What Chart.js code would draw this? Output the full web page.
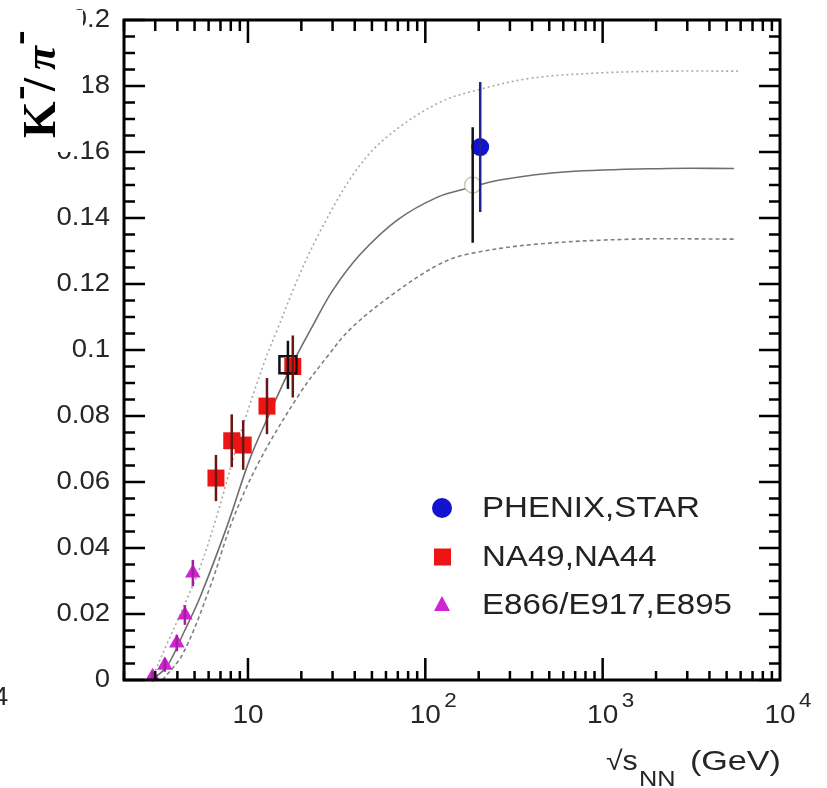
<!DOCTYPE html>
<html lang="en">
<head>
<meta charset="UTF-8">
<title>K-/pi- ratio</title>
<script src="https://cdn.jsdelivr.net/npm/chart.js"></script>
<style>
  body { margin: 0; background: #fff; }
  canvas { display: block; }
</style>
</head>
<body>
<canvas id="ratio_chart" width="827" height="788"></canvas>
<script>
  // model curves (upper / central / lower)
  const energyUpper = [2.85, 3.5, 4.4, 5.36, 6.7, 9.0, 12.5, 14.6, 18.9, 25, 39, 59, 118, 204, 400, 1000, 2500, 5800];
  const ratioUpper  = [0, 0.011, 0.023, 0.034, 0.050, 0.074, 0.097, 0.106, 0.121, 0.135, 0.153, 0.164, 0.1748, 0.179, 0.1824, 0.184, 0.1845, 0.1845];
  const energyMid = [2.85, 3.48, 4.4, 5.36, 7.6, 10.2, 12.8, 17.9, 23, 30, 43, 70, 118, 172, 263, 630, 2300, 5500];
  const ratioMid  = [0, 0.004, 0.015, 0.025, 0.0464, 0.0667, 0.079, 0.096, 0.107, 0.118, 0.129, 0.1395, 0.1464, 0.149, 0.1515, 0.154, 0.155, 0.155];
  const energyLow = [3.3, 4.3, 6.1, 8.2, 11.7, 19.7, 28, 38, 66, 118, 172, 410, 1500, 5500];
  const ratioLow  = [0, 0.008, 0.028, 0.0485, 0.0667, 0.087, 0.098, 0.1065, 0.117, 0.1258, 0.129, 0.132, 0.1336, 0.1336];

  // measurements
  const phenixE = [204],  phenixR = [0.1615], phenixErr = [0.0197];
  const starE   = [185],  starR   = [0.150],  starErr   = [0.0175];
  const na49E = [6.6, 8.1, 9.4, 12.8, 17.9];
  const na49R = [0.0612, 0.0725, 0.0712, 0.083, 0.095];
  const na49Err = [0.007, 0.008, 0.0075, 0.0085, 0.0094];
  const na44E = [16.8], na44R = [0.0955], na44Err = [0.0073];
  const e866E = [2.9, 3.4, 3.97, 4.41, 4.89];
  const e866R = [0.001, 0.0045, 0.0112, 0.0197, 0.0324];
  const e866Err = [0.0015, 0.002, 0.0025, 0.003, 0.004];

  const yTicks = [0, 0.02, 0.04, 0.06, 0.08, 0.1, 0.12, 0.14, 0.16, 0.18, 0.2];
  const xDecades = [1, 2, 3, 4];
  const legendLabels = ['PHENIX,STAR', 'NA49,NA44', 'E866/E917,E895'];

  const BLUE = '#1212cf', RED = '#ee1414', MAGENTA = '#d024d0';

  function pts(xs, ys) {
    return xs.map((x, i) => ({ x: x, y: ys[i] }));
  }

  function txt(ctx, s, x, y, size, align, sx) {
    ctx.save();
    ctx.translate(x, y);
    ctx.scale(sx, 1);
    ctx.font = size + 'px "Liberation Sans", Arial, sans-serif';
    ctx.textAlign = align;
    ctx.fillText(s, 0, 0);
    ctx.restore();
  }

  const errorBars = {
    id: 'errorBars',
    afterDatasetsDraw(chart) {
      const { ctx, scales: { x, y } } = chart;
      ctx.save();
      chart.data.datasets.forEach(ds => {
        if (!ds.errors) return;
        ctx.strokeStyle = ds.errorColor;
        ctx.lineWidth = 2.5;
        ds.data.forEach((p, i) => {
          const px = x.getPixelForValue(p.x);
          ctx.beginPath();
          ctx.moveTo(px, y.getPixelForValue(p.y - ds.errors[i]));
          ctx.lineTo(px, y.getPixelForValue(p.y + ds.errors[i]));
          ctx.stroke();
        });
      });
      ctx.restore();
    }
  };

  const frame = {
    id: 'frame',
    afterDraw(chart) {
      const { ctx, chartArea: a, scales: { x, y } } = chart;
      ctx.save();
      ctx.strokeStyle = '#000';
      ctx.lineWidth = 2.5;
      ctx.beginPath();
      // x ticks, bottom and top, pointing inward
      xDecades.forEach(d => {
        for (let k = 1; k <= 9; k++) {
          const v = k * Math.pow(10, d - 1);
          if (v < 2 || v >= 10000) continue;
          const px = x.getPixelForValue(v);
          const major = k === 1;
          ctx.moveTo(px, a.bottom); ctx.lineTo(px, a.bottom - (major ? 22 : 9));
          ctx.moveTo(px, a.top); ctx.lineTo(px, a.top + (major ? 23 : 11));
        }
      });
      // y ticks, left and right
      for (let i = 0; i <= 40; i++) {
        const py = y.getPixelForValue(i * 0.005);
        const len = i % 4 === 0 ? 21 : 11;
        ctx.moveTo(a.left, py); ctx.lineTo(a.left + len, py);
        ctx.moveTo(a.right, py); ctx.lineTo(a.right - len, py);
      }
      ctx.stroke();
      ctx.lineWidth = 3;
      ctx.strokeRect(a.left, a.top, a.right - a.left, a.bottom - a.top);

      ctx.fillStyle = '#262626';
      ctx.textBaseline = 'middle';
      yTicks.forEach(v => {
        txt(ctx, String(v), 110, y.getPixelForValue(v), 25, 'right', 1.1);
      });

      // decade labels with superscript exponent
      ctx.textBaseline = 'alphabetic';
      xDecades.forEach(d => {
        const px = x.getPixelForValue(Math.pow(10, d));
        txt(ctx, '10', px, 723, 25, 'center', 1.12);
        if (d > 1) txt(ctx, String(d), px + 19, 707, 20, 'left', 1.12);
      });

      // axis title: sqrt(s_NN) (GeV)
      txt(ctx, '\u221As', 606, 770, 27, 'left', 1.12);
      txt(ctx, 'NN', 639, 786, 22, 'left', 1.15);
      txt(ctx, '(GeV)', 781, 770, 28, 'right', 1.22);

      txt(ctx, '4', -7, 705, 25, 'left', 1.1);

      // y title on its own white patch
      ctx.fillStyle = '#fff';
      ctx.fillRect(0, 10, 83, 142);
      ctx.fillStyle = '#000';
      ctx.translate(55, 138);
      ctx.rotate(-Math.PI / 2);
      const serif = '"Liberation Serif", "Times New Roman", serif';
      ctx.textAlign = 'left';
      ctx.font = 'bold 47px ' + serif;
      ctx.fillText('K', 0, 0);
      ctx.font = 'bold 44px ' + serif;
      ctx.fillText('-', 38, -22);
      ctx.font = 'bold 47px ' + serif;
      ctx.fillText('/', 47, 0);
      ctx.font = 'italic bold 44px ' + serif;
      ctx.fillText('\u03C0', 68, 0);
      ctx.font = 'bold 44px ' + serif;
      ctx.fillText('-', 93, -22);
      ctx.setTransform(1, 0, 0, 1, 0, 0);

      // legend
      const rows = [508, 557, 605];
      ctx.fillStyle = BLUE;
      ctx.beginPath(); ctx.arc(442, rows[0], 10, 0, Math.PI * 2); ctx.fill();
      ctx.fillStyle = RED;
      ctx.fillRect(434, rows[1] - 8.5, 17, 17);
      ctx.fillStyle = MAGENTA;
      ctx.beginPath();
      ctx.moveTo(442, rows[2] - 9); ctx.lineTo(450, rows[2] + 6); ctx.lineTo(434, rows[2] + 6);
      ctx.closePath(); ctx.fill();
      ctx.fillStyle = '#222';
      ctx.textBaseline = 'middle';
      legendLabels.forEach((s, i) => txt(ctx, s, 482, rows[i] + 1, 29, 'left', 1.14));
      ctx.restore();
    }
  };

  const curve = (data, color, dash) => ({
    type: 'line', data: data, showLine: true, borderColor: color, borderWidth: 1.6,
    borderDash: dash, pointRadius: 0, fill: false, tension: 0.35
  });

  new Chart(document.getElementById('ratio_chart'), {
    type: 'scatter',
    data: {
      datasets: [
        { label: 'PHENIX', data: pts(phenixE, phenixR), errors: phenixErr, errorColor: '#22228a',
          pointStyle: 'circle', pointRadius: 9, backgroundColor: BLUE, borderColor: BLUE, borderWidth: 0 },
        { label: 'STAR', data: pts(starE, starR), errors: starErr, errorColor: '#111',
          pointStyle: 'circle', pointRadius: 8, backgroundColor: '#fff', borderColor: '#c8c8b0', borderWidth: 1.5 },
        { label: 'NA44', data: pts(na44E, na44R), errors: na44Err, errorColor: '#111',
          pointStyle: 'rect', pointRadius: 12, backgroundColor: 'rgba(0,0,0,0)', borderColor: '#111', borderWidth: 2.5 },
        { label: 'NA49', data: pts(na49E, na49R), errors: na49Err, errorColor: '#6a1616',
          pointStyle: 'rect', pointRadius: 12, backgroundColor: RED, borderColor: RED, borderWidth: 0 },
        { label: 'E866/E917,E895', data: pts(e866E, e866R), errors: e866Err, errorColor: '#a020a0',
          pointStyle: 'triangle', pointRadius: 9, backgroundColor: MAGENTA, borderColor: MAGENTA, borderWidth: 0 },
        curve(pts(energyMid, ratioMid), '#6e6e6e', []),
        curve(pts(energyUpper, ratioUpper), '#a8a8a8', [2, 3]),
        curve(pts(energyLow, ratioLow), '#808080', [4, 3])
      ]
    },
    options: {
      responsive: false,
      animation: false,
      layout: { padding: { left: 124, top: 20, right: 47, bottom: 108 } },
      plugins: { legend: { display: false }, tooltip: { enabled: false } },
      scales: {
        x: { type: 'logarithmic', min: 2, max: 10000, display: false },
        y: { type: 'linear', min: 0, max: 0.2, display: false }
      }
    },
    plugins: [errorBars, frame]
  });
</script>
</body>
</html>
